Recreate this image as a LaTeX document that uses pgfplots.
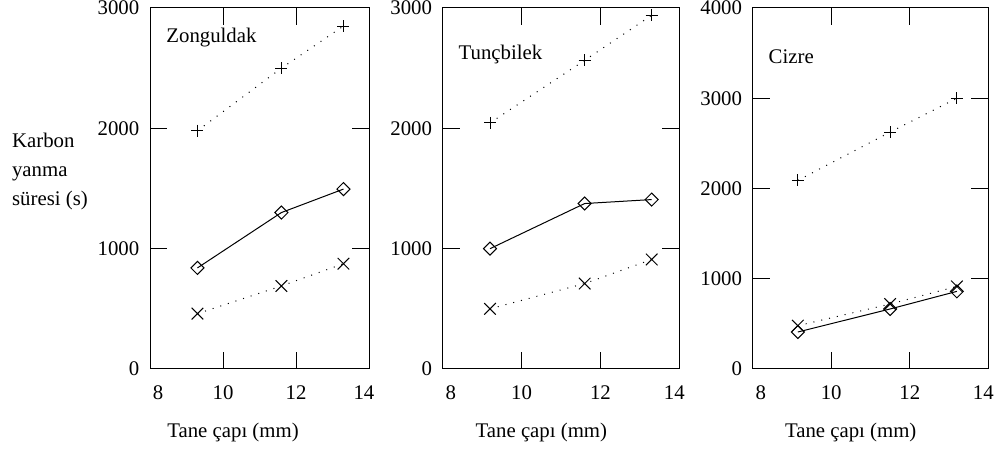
\documentclass[border=0pt]{standalone}
\usepackage{fontspec}
\setmainfont{Liberation Serif}
\usepackage{pgfplots}
\pgfplotsset{compat=1.18}

\pgfplotsset{
  panel/.style={
    scale only axis, height=180.5pt, anchor=south west,
    xmin=8, xmax=14, ymin=0,
    xtick={8,10,12,14},
    xticklabels={\kern8pt 8,10,12,\kern-5pt 14},
    major tick length=8.5pt,
    tick style={line width=0.5pt, black},
    axis line style={line width=0.5pt},
    /pgf/number format/assume math mode=true,
    /pgf/number format/1000 sep={},
    scaled y ticks=false,
    xticklabel style={yshift=-4.6pt},
    yticklabel style={xshift=-1.7pt},
    xlabel={Tane çapı (mm)},
    clip=false,
  },
  dotline/.style={black, line width=0.5pt, dash pattern=on 0.5pt off 3.5pt},
  pluss/.style={dotline, mark=+, mark size=3pt, mark options={solid}},
  crosss/.style={dotline, mark=x, mark size=4.1pt, mark options={solid}},
  diam/.style={black, line width=0.5pt, mark=square, mark size=2.3pt, mark options={solid, rotate=45}},
}

\begin{document}
\fontsize{10.4}{12.5}\selectfont
\begin{tikzpicture}
\path[use as bounding box] (0,0) rectangle (497.5pt,226.5pt);

% Zonguldak
\begin{axis}[panel, at={(75pt,42pt)}, width=109.5pt,
  ymax=3000, ytick={0,1000,2000,3000},
  xlabel style={at={(axis description cs:0.379,0)}, anchor=center, yshift=-32pt}]
\addplot[pluss] coordinates {(9.3,1980) (11.6,2500) (13.3,2850)};
\addplot[diam] coordinates {(9.3,840) (11.6,1300) (13.3,1495)};
\addplot[crosss] coordinates {(9.3,460) (11.6,690) (13.3,875)};
\node[anchor=west, inner sep=0] at (rel axis cs:0,1) [xshift=8pt, yshift=-15pt] {Zonguldak};
\end{axis}

% Tuncbilek
\begin{axis}[panel, at={(221.35pt,42pt)}, width=118.3pt,
  ymax=3000, ytick={0,1000,2000,3000},
  xlabel style={at={(axis description cs:0.417,0)}, anchor=center, yshift=-32pt}]
\addplot[pluss] coordinates {(9.2,2045) (11.6,2565) (13.3,2940)};
\addplot[diam] coordinates {(9.2,1000) (11.6,1375) (13.3,1408)};
\addplot[crosss] coordinates {(9.2,500) (11.6,710) (13.3,910)};
\node[anchor=west, inner sep=0] at (rel axis cs:0,1) [xshift=7.8pt, yshift=-23.5pt] {Tunçbilek};
\end{axis}

% Cizre
\begin{axis}[panel, at={(376.35pt,42pt)}, width=117.8pt,
  ymax=4000, ytick={0,1000,2000,3000,4000},
  xlabel style={at={(axis description cs:0.416,0)}, anchor=center, yshift=-32pt}]
\addplot[pluss] coordinates {(9.15,2090) (11.5,2625) (13.2,3000)};
\addplot[diam] coordinates {(9.15,410) (11.5,665) (13.2,860)};
\addplot[crosss] coordinates {(9.15,480) (11.5,720) (13.2,915)};
\node[anchor=west, inner sep=0] at (rel axis cs:0,1) [xshift=7.8pt, yshift=-24.2pt] {Cizre};
\end{axis}

\node[anchor=west, align=left, inner sep=0, font={\fontsize{10.4}{14.6}\selectfont}] at (5.85pt,140.65pt) {Karbon\\yanma\\süresi (s)};
\end{tikzpicture}
\end{document}
